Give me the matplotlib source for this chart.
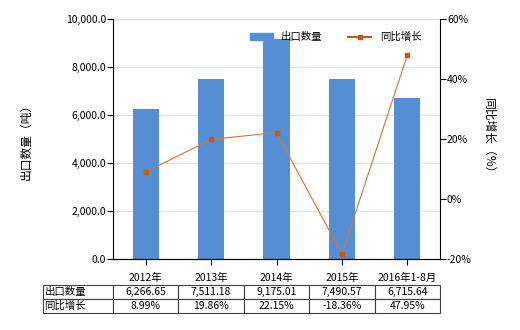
import matplotlib.pyplot as plt
from matplotlib.lines import Line2D
from matplotlib.patches import Patch

plt.rcParams['font.family'] = ['Noto Sans CJK SC', 'DejaVu Sans']

#==============================================

years = ['2012年', '2013年', '2014年', '2015年', '2016年1-8月']
export_qty = [6266.65, 7511.18, 9175.01, 7490.57, 6715.64]
yoy_growth = [8.99, 19.86, 22.15, -18.36, 47.95]
qty_labels = ['6,266.65', '7,511.18', '9,175.01', '7,490.57', '6,715.64']
growth_labels = ['8.99%', '19.86%', '22.15%', '-18.36%', '47.95%']

bar_color = '#558ed5'
line_color = '#e07030'
marker_color = '#c55a11'

#==============================================

fig = plt.figure(figsize=(5.2, 3.3), dpi=100)
ax = fig.add_axes([113/520, 1-259/330, 327/520, 240/330])

x = list(range(len(years)))
ax.bar(x, export_qty, width=0.4, color=bar_color, zorder=2)
ax.set_xlim(-0.5, len(years)-0.5)
ax.set_ylim(0, 10000)
ax.set_yticks(range(0, 10001, 2000))
ax.set_yticklabels(['{:,.1f}'.format(v) for v in range(0, 10001, 2000)], fontsize=7.5)
ax.set_xticks(x)
ax.set_xticklabels(years, fontsize=7.5)
ax.tick_params(axis='x', length=4, pad=6)
ax.tick_params(axis='y', length=4, pad=1)
ax.grid(axis='y', color='#e0e0e0', lw=0.8, zorder=0)
for s in ['top', 'right']:
    ax.spines[s].set_visible(False)
ax.set_ylabel('出口数量（吨）', fontsize=8.5, labelpad=24)

ax2 = ax.twinx()
ax2.plot(x, yoy_growth, color=line_color, lw=0.8, marker='s', markersize=3.5,
         markerfacecolor=marker_color, markeredgecolor=marker_color, zorder=3)
ax2.set_ylim(-20, 60)
ax2.set_yticks(range(-20, 61, 20))
ax2.set_yticklabels(['{}%'.format(v) for v in range(-20, 61, 20)], fontsize=7.5)
ax2.tick_params(axis='y', length=4, pad=1)
for s in ['top', 'left']:
    ax2.spines[s].set_visible(False)
ax2.set_ylabel('同比增长（%）', fontsize=8.5, rotation=-90, labelpad=17)

handles = [Patch(color=bar_color), Line2D([], [], color=marker_color, marker='s', markersize=3.5, lw=1.5)]
ax.legend(handles, ['出口数量', '同比增长'], loc='upper center', bbox_to_anchor=(0.68, 0.985),
          ncol=2, frameon=False, fontsize=7.5, handlelength=2.2, columnspacing=2.5)

#==============================================

cells = [['出口数量'] + qty_labels, ['同比增长'] + growth_labels]
first_w = 70 / 327
tb = ax.table(cellText=cells, cellLoc='center',
              colWidths=[first_w] + [1/5]*5,
              bbox=[-first_w, (259-313)/240, 1 + first_w, 28/240])
tb.auto_set_font_size(False)
tb.set_fontsize(7.5)
for (r, c), cell in tb.get_celld().items():
    cell.set_edgecolor('#404040')
    cell.set_linewidth(0.8)
    if c == 0:
        cell.set_text_props(ha='left')
        cell.PAD = 0.02

fig.savefig('out.png', dpi=100)
